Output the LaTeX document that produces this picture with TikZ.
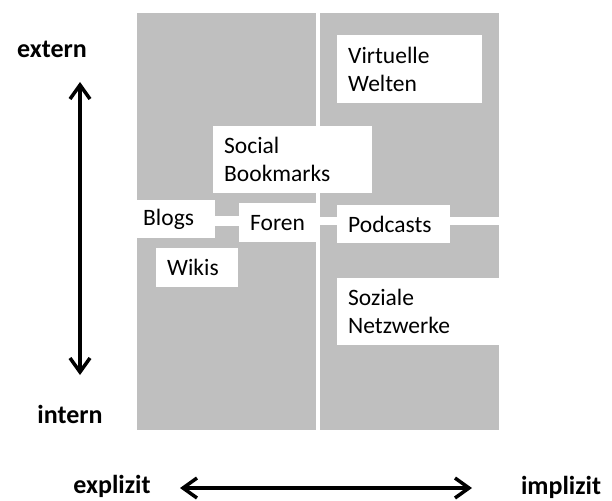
\documentclass[tikz,border=0pt]{standalone}
\usepackage{fontspec}
\setmainfont{Carlito}
\usetikzlibrary{arrows.meta}
\definecolor{quadgray}{RGB}{191,191,191}
\tikzset{
  toolbox/.style={fill=white,anchor=north west,align=left,inner xsep=11pt,inner ysep=0pt,
    font=\fontsize{23.5}{28}\selectfont},
  axislabel/.style={anchor=base,inner sep=0pt,font=\fontsize{26}{30}\selectfont\bfseries},
  axis/.style={line width=3.5pt,{Straight Barb[length=14pt,width=20pt]}-{Straight Barb[length=14pt,width=20pt]}}
}
\begin{document}
\begin{tikzpicture}[x=1pt,y=-1pt]
        \useasboundingbox (0,0) rectangle (612,500);
        % quadrants
        \fill[quadgray] (137,13) rectangle (316,216);
        \fill[quadgray] (320,13) rectangle (499,217);
        \fill[quadgray] (137,226) rectangle (316,430);
        \fill[quadgray] (320,225) rectangle (499,430);
        % tools
        \node[toolbox,text width=123pt,minimum height=68pt] (VW) at (337,35) {Virtuelle\\Welten};
        \node[toolbox,text width=137pt,minimum height=67pt] (SB) at (213,126) {Social\\Bookmarks};
        \node[toolbox,text width=61pt,minimum height=38pt] (Blogs) at (132,200) {Blogs};
        \node[toolbox,text width=59pt,minimum height=39pt] (Foren) at (239,203) {Foren};
        \node[toolbox,text width=91pt,minimum height=38pt] (Podcasts) at (337,205) {Podcasts};
        \node[toolbox,text width=60pt,minimum height=39pt] (Wikis) at (156,248) {Wikis};
        \node[toolbox,text width=140pt,minimum height=67pt] (SN) at (337,278) {Soziale\\Netzwerke};
        % axes
        \node[axislabel] (extern) at (52,58) {extern};
        \node[axislabel] (intern) at (70,423) {intern};
        \node[axislabel] (explizit) at (112,493) {explizit};
        \node[axislabel] (implizit) at (561,494) {implizit};
        \coordinate (top) at (80,82);
        \coordinate (bottom) at (80,375);
        \coordinate (left) at (180,488);
        \coordinate (right) at (472,488);
        \draw[axis] (top) -- (bottom);
        \draw[axis] (left) -- (right);
      \end{tikzpicture}
\end{document}
